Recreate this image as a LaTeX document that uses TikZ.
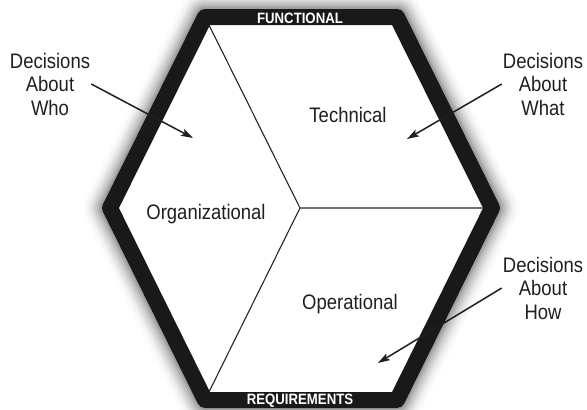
\documentclass[tikz,border=0pt]{standalone}
\usepackage{fontspec}
\setmainfont{Liberation Sans}[FakeStretch=0.88]
\usetikzlibrary{arrows.meta}

\begin{document}
\begin{tikzpicture}[x=1pt,y=-1pt,
    lbl/.style={font=\fontsize{21}{23.5}\selectfont, text=black!88, inner sep=1pt, align=center},
    band/.style={font=\fontsize{15}{15}\selectfont\bfseries, text=white, inner sep=0pt},
    pointer/.style={black!88, line width=1.5pt, -{Stealth[length=12pt,width=7.5pt,inset=2.5pt]}}]
  \useasboundingbox (0,0) rectangle (587,410);
  \clip (0,0) rectangle (587,410);
  \coordinate (tl) at (205,17);
  \coordinate (tr) at (397,17);
  \coordinate (r) at (492,208);
  \coordinate (br) at (397,400);
  \coordinate (bl) at (205,400);
  \coordinate (l) at (110,208);
  \coordinate (c) at (300,208);
  % soft shadow round the frame
  \foreach \i in {12,...,1}{
    \pgfmathtruncatemacro\shade{45*(1-\i/13)^2}
    \draw[line width=16+3.4*\i, black!\shade, line join=round] (tl)--(tr)--(r)--(br)--(bl)--(l)--cycle;
  }
  \fill[white] (tl)--(tr)--(r)--(br)--(bl)--(l)--cycle;
  \draw[line width=1.1pt, black!85] (c)--(tl) (c)--(r) (c)--(bl);
  \draw[line width=16pt, black!90, line join=round] (tl)--(tr)--(r)--(br)--(bl)--(l)--cycle;
  \node[band] (func) at (300,18) {FUNCTIONAL};
  \node[band] (req) at (300,401) {REQUIREMENTS};
  \node[lbl, anchor=base] (tech) at (348,122) {Technical};
  \node[lbl, anchor=base] (org) at (206,219) {Organizational};
  \node[lbl, anchor=base] (oper) at (350,309) {Operational};
  \node[lbl] (who) at (50,84) {Decisions\\About\\Who};
  \node[lbl] (what) at (543,84) {Decisions\\About\\What};
  \node[lbl] (how) at (543,288) {Decisions\\About\\How};
  \coordinate (whoTip) at (193,138);
  \coordinate (whatTip) at (407,139);
  \coordinate (howTip) at (378,363);
  \draw[pointer] (who.east) -- (whoTip);
  \draw[pointer] (what.west) -- (whatTip);
  \draw[pointer] (how.west) -- (howTip);
\end{tikzpicture}
\end{document}
